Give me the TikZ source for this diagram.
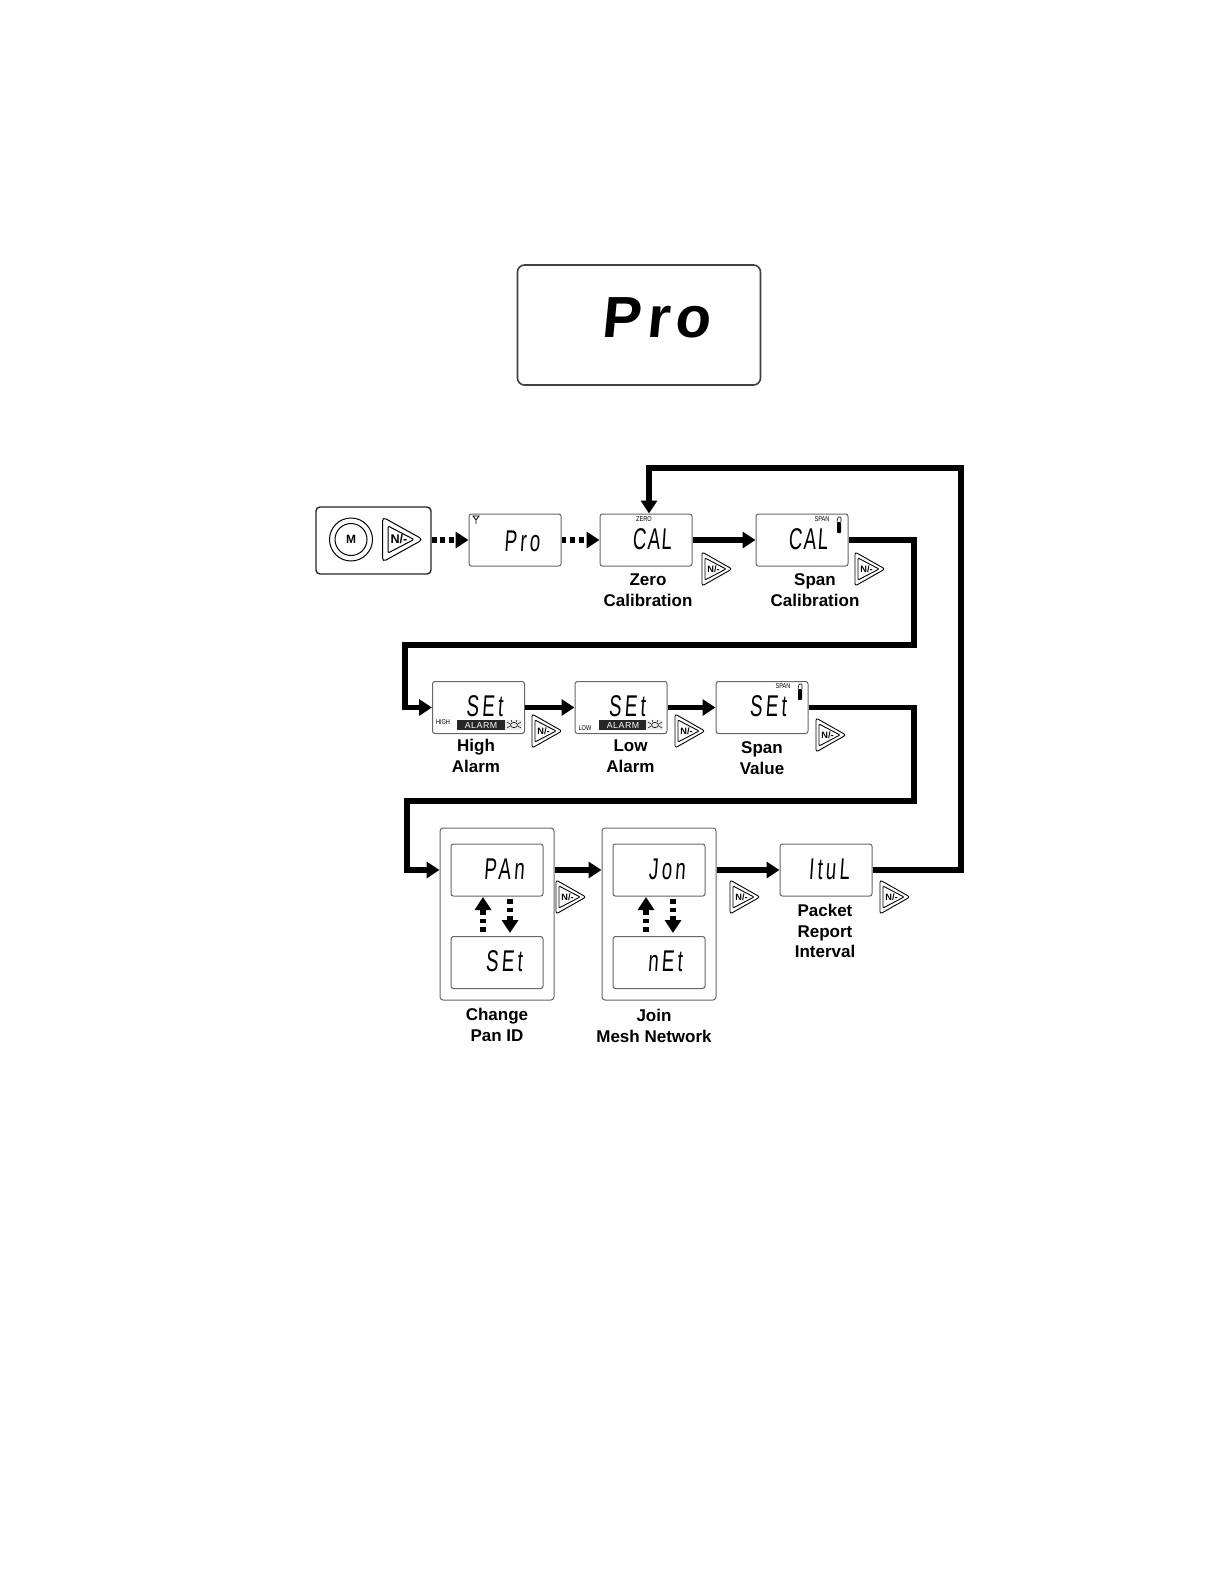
\documentclass[tikz,border=0pt]{standalone}
\usepackage{fontspec}
\setmainfont{Liberation Sans}
\newfontfamily\lcdfont[FakeSlant=0.07,FakeStretch=0.62,LetterSpace=5]{Liberation Sans}
\newfontfamily\lcdwide[FakeSlant=0.07,FakeStretch=0.62,LetterSpace=11]{Liberation Sans}
\newfontfamily\lcdbig[FakeSlant=0.1,LetterSpace=10]{Liberation Sans Bold}
\newfontfamily\tinyfont[FakeStretch=0.8]{Liberation Sans}
\usetikzlibrary{arrows.meta}
\tikzset{
  lcdbox/.style={draw=black!60,line width=0.5pt,rounded corners=1.2pt,fill=white,minimum width=46pt,minimum height=26pt,inner sep=0pt},
  groupbox/.style={draw=black!60,line width=0.5pt,rounded corners=1.5pt,fill=white,minimum width=57pt,minimum height=86pt,inner sep=0pt},
  lcdtext/.style={inner sep=0pt,font=\lcdwide\fontsize{15}{15}\selectfont},
  lcdcal/.style={inner sep=0pt,font=\lcdfont\fontsize{15}{15}\selectfont},
  steplabel/.style={inner sep=0pt,align=center,font=\bfseries\fontsize{8.5}{10.25}\selectfont},
  minitext/.style={inner sep=0pt,font=\tinyfont\fontsize{3.5}{4}\selectfont},
  solidarrow/.style={line width=2.6pt,-{Triangle[length=6.5pt,width=8pt]}},
  dotarrow/.style={line width=2.8pt,dash pattern=on 2.4pt off 1.9pt,-{Triangle[length=6.5pt,width=8pt]}},
  alarmbar/.style={fill=black!85,text=white,inner sep=0pt,minimum width=24pt,minimum height=5pt,font=\fontsize{4.4}{5}\selectfont\addfontfeatures{LetterSpace=6}},
}
\newcommand{\NIcon}[3]{% name, left x, centre y
  \draw[line width=0.45pt,rounded corners=1.2pt,fill=white] (#2,#3-17) -- (#2+30,#3) -- (#2,#3+17) -- cycle;
  \draw[line width=0.45pt,rounded corners=0.5pt] (#2+3,#3-11) -- (#2+24,#3) -- (#2+3,#3+11) -- cycle;
  \node[inner sep=0pt,font=\bfseries\fontsize{4.6}{5}\selectfont] (#1) at (#2+11.5,#3) {N/-};
}
\newcommand{\Battery}[2]{% x, y
  \fill[black,rounded corners=0.4pt] (#1-2,#2-3) rectangle (#1+2,#2+8);
  \draw[line width=0.3pt,rounded corners=0.4pt] (#1-2,#2-3) -- (#1-1,#2-8) -- (#1+2,#2-8) -- (#1+2,#2-3);
}
\newcommand{\BugIcon}[2]{% x, y
  \fill[black!8] (#1-9,#2-5) rectangle (#1+8,#2+5);
  \draw[line width=0.3pt] (#1,#2) ellipse (3.5 and 2.6);
  \draw[line width=0.25pt] (#1-4,#2-1) -- (#1-7,#2-3) (#1-4,#2+1) -- (#1-7,#2+3) (#1+4,#2-1) -- (#1+7,#2-3) (#1+4,#2+1) -- (#1+7,#2+3) (#1-2,#2-3) -- (#1-3,#2-5) (#1+2,#2-3) -- (#1+3,#2-5);
}
\begin{document}
\begin{tikzpicture}[x=0.5pt,y=-0.5pt]
\useasboundingbox (0,0) rectangle (1224,1584);
\fill[white] (0,0) rectangle (1224,1584);

% big display
\node[draw=black!75,line width=0.8pt,rounded corners=3.5pt,minimum width=121.5pt,minimum height=60pt,inner sep=0pt] (bigbox) at (639,325) {};
\node[inner sep=0pt,font=\lcdbig\fontsize{29}{29}\selectfont] (bigtext) at (656,318) {Pro};

% keys
\node[draw=black!85,line width=0.7pt,rounded corners=2pt,minimum width=57.5pt,minimum height=33.5pt,inner sep=0pt] (keys) at (373.5,540.5) {};
\draw[line width=0.5pt] (351,539.5) circle (21.5);
\node[draw,circle,line width=0.5pt,minimum size=16pt,inner sep=0pt,font=\bfseries\fontsize{6}{6}\selectfont] (mkey) at (351,539.5) {M};
\draw[line width=0.5pt,rounded corners=2pt] (382.5,517) -- (423,539.5) -- (382.5,562) -- cycle;
\draw[line width=0.5pt,rounded corners=0.6pt] (388,526) -- (414,539.5) -- (388,553) -- cycle;
\node[inner sep=0pt,font=\bfseries\fontsize{6.3}{6}\selectfont] (nkey) at (399,539.5) {N/-};

% row 1
\node[lcdbox] (pro) at (515,540) {};
\node[lcdtext] (protext) at (522,541) {Pro};
\draw[line width=0.4pt] (473,516) -- (479,516) -- (476,520) -- cycle (476,520) -- (476,524);

\node[lcdbox] (zero) at (646,540) {};
\node[lcdcal] (zerotext) at (652,539) {CAL};
\node[minitext] (zerotag) at (644,519) {ZERO};

\node[lcdbox] (span) at (802,540) {};
\node[lcdcal] (spantext) at (808,539) {CAL};
\node[minitext] (spantag) at (822,519) {SPAN};
\Battery{839}{525}

% row 2
\node[lcdbox] (high) at (478.5,707.5) {};
\node[lcdtext] (hightext) at (484.5,706) {SEt};
\node[minitext] (hightag) at (443,722) {HIGH};
\node[alarmbar] (highbar) at (481,725) {ALARM};
\BugIcon{514}{725}

\node[lcdbox] (low) at (621,707.5) {};
\node[lcdtext] (lowtext) at (627,706) {SEt};
\node[minitext] (lowtag) at (585,728) {LOW};
\node[alarmbar] (lowbar) at (623,725) {ALARM};
\BugIcon{655}{725}

\node[lcdbox] (value) at (762,707.5) {};
\node[lcdtext] (valuetext) at (768,706) {SEt};
\node[minitext] (valuetag) at (783,686) {SPAN};
\Battery{800}{692}

% row 3
\node[groupbox] (pangroup) at (497,914) {};
\node[lcdbox] (pan) at (497,870) {};
\node[lcdtext] (pantext) at (504,869) {PAn};
\node[lcdbox] (set) at (497,962.5) {};
\node[lcdtext] (settext) at (504,961) {SEt};

\node[groupbox] (joingroup) at (659,914) {};
\node[lcdbox] (join) at (659,870) {};
\node[lcdtext] (jointext) at (667,869) {Jon};
\node[lcdbox] (net) at (659,962.5) {};
\node[lcdtext] (nettext) at (665,961) {nEt};

\node[lcdbox] (itul) at (826,870) {};
\node[lcdtext] (itultext) at (829,869) {ItuL};

% N/- icons
\NIcon{n1}{702}{569}
\NIcon{n2}{855}{569}
\NIcon{n3}{532}{731}
\NIcon{n4}{675}{731}
\NIcon{n5}{816}{735}
\NIcon{n6}{556}{897}
\NIcon{n7}{730}{897}
\NIcon{n8}{880}{897}

% labels
\node[steplabel] (lzero) at (648,590) {Zero\\Calibration};
\node[steplabel] (lspan) at (815,590) {Span\\Calibration};
\node[steplabel] (lhigh) at (476,756) {High\\Alarm};
\node[steplabel] (llow) at (630.5,756) {Low\\Alarm};
\node[steplabel] (lvalue) at (762,758) {Span\\Value};
\node[steplabel] (lpan) at (497,1025) {Change\\Pan ID};
\node[steplabel] (ljoin) at (654,1026) {Join\\Mesh Network};
\node[steplabel] (lpacket) at (825,931) {Packet\\Report\\Interval};

% helper coordinates
\coordinate (wa) at (914,645);
\coordinate (wb) at (405,645);
\coordinate (wc) at (914,801);
\coordinate (wd) at (407,801);
\coordinate (we) at (961,468);
\coordinate (wf) at (649,468);
\coordinate (upa) at (483,932);
\coordinate (upb) at (483,897);
\coordinate (dna) at (510,899);
\coordinate (dnb) at (510,933);
\coordinate (upc) at (646,932);
\coordinate (upd) at (646,897);
\coordinate (dnc) at (673,899);
\coordinate (dnd) at (673,933);

% connectors
\draw[dotarrow] (keys.east |- pro.west) -- (pro.west);
\draw[dotarrow] (pro.east) -- (zero.west);
\draw[solidarrow] (zero.east) -- (span.west);
\draw[solidarrow] (span.east) -- (span.east -| wa) -- (wa) -- (wb) -- (wb |- high.west) -- (high.west);
\draw[solidarrow] (high.east) -- (low.west);
\draw[solidarrow] (low.east) -- (value.west);
\draw[solidarrow] (value.east) -- (value.east -| wc) -- (wc) -- (wd) -- (wd |- pangroup.west |- pan.west) -- (pangroup.west |- pan.west);
\draw[solidarrow] (pangroup.east |- pan.east) -- (joingroup.west |- pan.east);
\draw[solidarrow] (joingroup.east |- join.east) -- (itul.west);
\draw[solidarrow] (itul.east) -- (itul.east -| we) -- (we) -- (wf) -- (zero.north -| wf);
\draw[dotarrow] (upa) -- (upb);
\draw[dotarrow] (dna) -- (dnb);
\draw[dotarrow] (upc) -- (upd);
\draw[dotarrow] (dnc) -- (dnd);
\end{tikzpicture}
\end{document}
